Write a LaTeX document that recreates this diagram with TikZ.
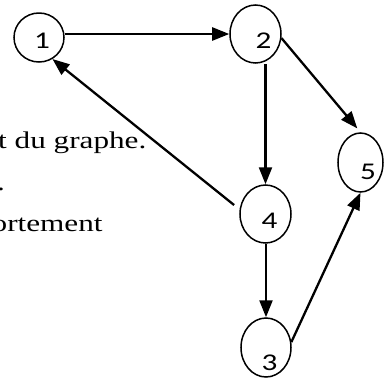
\documentclass[tikz,border=0pt]{standalone}
\usepackage{fontspec}
\setmainfont{Liberation Serif}
\newfontfamily\digfont{Carlito}
\usetikzlibrary{shapes.geometric,arrows.meta}
\newcommand{\sxw}[1]{\scalebox{1.3}[1]{#1}}
\begin{document}
\begin{tikzpicture}[x=1bp,y=-1bp,
  ell/.style={ellipse,draw,line width=1.5bp,inner sep=0pt},
  lab/.style={font=\digfont\fontsize{24bp}{24bp}\selectfont,inner sep=0pt},
  edgearrow/.style={line width=2.3bp,-{Triangle[length=17bp,width=13bp]}},
  txt/.style={font=\fontsize{24bp}{28bp}\selectfont,anchor=base west,inner sep=0pt}]
\useasboundingbox (0,0) rectangle (386,378);
\clip (0,0) rectangle (386,378);
% text fragments (cut at the left edge, as in the reference)
\node[txt] (t1) at (-2,148) {\sxw{t du graphe.}};
\node[txt] (t2) at (-3,190) {\sxw{.}};
\node[txt] (t3) at (-8.5,231) {\sxw{ortement}};
% vertices
\node[ell,minimum width=50bp,minimum height=49bp,
  label={[lab,xshift=3bp,yshift=-3.5bp]center:\sxw{1}}] (n1) at (39,37.5) {};
\node[ell,minimum width=51bp,minimum height=58bp,
  label={[lab,xshift=8bp,yshift=-6.5bp]center:\sxw{2}}] (n2) at (255.5,34) {};
\node[ell,minimum width=45bp,minimum height=59bp,
  label={[lab,xshift=7.5bp,yshift=-9.5bp]center:\sxw{5}}] (n5) at (360.5,162.5) {};
\node[ell,minimum width=51bp,minimum height=58bp,
  label={[lab,xshift=4bp,yshift=-6.7bp]center:\sxw{4}}] (n4) at (265.5,214) {};
\node[ell,minimum width=50bp,minimum height=59bp,
  label={[lab,xshift=3.5bp,yshift=-15bp]center:\sxw{3}}] (n3) at (266,347.5) {};
% arcs
\draw[edgearrow] (n1.east |- n2.west) -- (n2.west);
\draw[edgearrow,shorten >=5bp] (n2.-9) -- (n5.north);
\draw[edgearrow] (n4.north |- n2.south) -- (n4.north);
\draw[edgearrow,shorten <=7bp] (n4.170) -- (n1.-58);
\draw[edgearrow] (n3.north |- n4.south) -- (n3.north);
\draw[edgearrow] (n3.12) -- (n5.south);
\end{tikzpicture}
\end{document}
